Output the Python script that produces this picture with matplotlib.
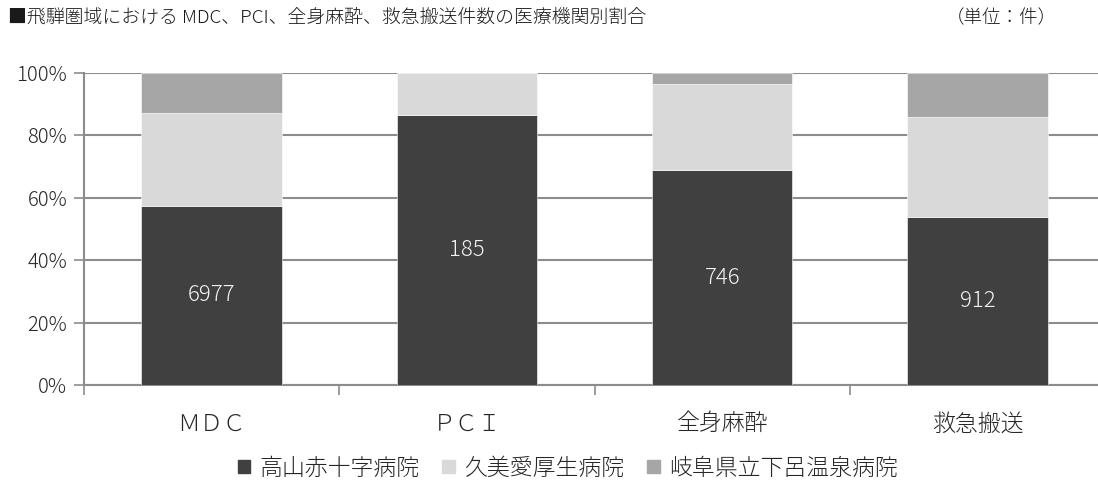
import numpy as np
import matplotlib.pyplot as plt
from matplotlib.patches import Patch

plt.rcParams['font.family'] = ['Noto Sans CJK JP', 'DejaVu Sans']
plt.rcParams['font.weight'] = 'light'

# --- データ ---
categories = ['ＭＤＣ', 'ＰＣＩ', '全身麻酔', '救急搬送']
hospitals = ['高山赤十字病院', '久美愛厚生病院', '岐阜県立下呂温泉病院']
takayama = [6977, 185, 746, 912]
kumiai = [3592, 29, 299, 540]
gero = [1565, 0, 38, 240]
colors = ['#404040', '#d9d9d9', '#a6a6a6']

counts = np.array([takayama, kumiai, gero], dtype=float)
share = counts / counts.sum(axis=0) * 100

fig = plt.figure(figsize=(10.98, 4.86), dpi=100)
ax = fig.add_axes([0.0765, 0.2078, 0.930, 0.642])

x = np.arange(len(categories))
bottom = np.zeros(len(categories))
for i in range(3):
    ax.bar(x, share[i], 0.55, bottom=bottom, color=colors[i],
           edgecolor='white', linewidth=0.4, zorder=3)
    bottom += share[i]

# 高山赤十字病院の件数ラベル
for xi, v, s in zip(x, takayama, share[0]):
    ax.text(xi, s / 2, f'{v}', ha='center', va='center',
            color='#f2f2f2', fontsize=16, zorder=4)

ax.set_xlim(-0.5, len(categories) - 0.5)
ax.set_ylim(0, 100)
ax.set_yticks(np.arange(0, 101, 20))
ax.set_yticklabels([f'{v}%' for v in range(0, 101, 20)], fontsize=14.5)
ax.yaxis.grid(True, color='#8c8c8c', linewidth=1.5, zorder=0)

ax.set_xticks(x)
ax.set_xticklabels(categories, fontsize=16.5)
ax.set_xticks(np.arange(-0.5, len(categories), 1), minor=True)
ax.tick_params(axis='x', which='major', length=0, pad=19, labelcolor='#262626')
ax.tick_params(axis='x', which='minor', length=7, width=1.2, color='#8c8c8c')
ax.tick_params(axis='y', length=7, width=1.2, color='#8c8c8c', pad=5,
               labelcolor='#262626')

for side in ['top', 'right']:
    ax.spines[side].set_visible(False)
for side in ['left', 'bottom']:
    ax.spines[side].set_color('#8c8c8c')
    ax.spines[side].set_linewidth(1.5)

fig.text(0.007, 0.963, '■飛騨圏域における MDC、PCI、全身麻酔、救急搬送件数の医療機関別割合',
         fontsize=13.6, va='center', color='#1a1a1a')
fig.text(0.861, 0.963, '（単位：件）', fontsize=13.3, va='center', color='#1a1a1a')

handles = [Patch(color=c) for c in colors]
fig.legend(handles, hospitals, loc='center', bbox_to_anchor=(0.517, 0.037),
           ncol=3, frameon=False, fontsize=16.5, handlelength=0.55,
           handleheight=0.55, handletextpad=0.4, columnspacing=1.0,
           labelcolor='#262626')

plt.savefig('out.png', dpi=100)
